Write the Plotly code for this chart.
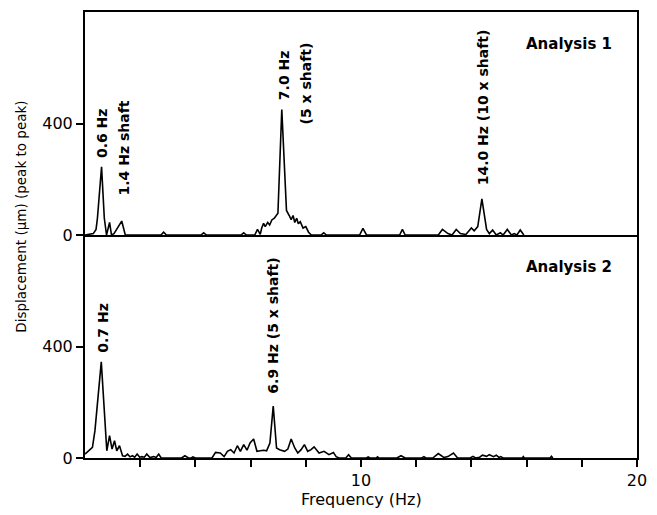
import plotly.graph_objects as go

# Analysis 1 spectrum (Hz, displacement µm peak-to-peak)
freq1 = [0.0, 0.3, 0.4, 0.45, 0.6, 0.7, 0.78, 0.89, 0.96, 1.05, 1.33, 1.46, 2.75, 2.85, 2.95,
         4.2, 4.3, 4.4, 5.65, 5.75, 5.85, 6.15, 6.25, 6.35, 6.4, 6.47, 6.53, 6.62, 6.69, 6.77,
         6.86, 6.93, 6.99, 7.13, 7.3, 7.4, 7.47, 7.54, 7.6, 7.67, 7.73, 7.8, 7.9, 8.0, 8.1,
         8.2, 8.55, 8.65, 8.75, 9.95, 10.07, 10.2, 11.4, 11.5, 11.6, 12.8, 12.95, 13.15, 13.3,
         13.45, 13.6, 13.8, 14.0, 14.1, 14.23, 14.38, 14.55, 14.65, 14.77, 14.9, 15.05, 15.15,
         15.3, 15.45, 15.55, 15.65, 15.77, 15.9]
disp1 = [0, 5, 20, 60, 245, 60, 0, 45, 0, 5, 50, 0, 0, 10, 0,
         0, 8, 0, 0, 8, 0, 0, 20, 2, 24, 42, 30, 45, 36, 54,
         60, 72, 78, 450, 88, 70, 55, 70, 45, 60, 40, 48, 25, 30, 10,
         0, 0, 8, 0, 0, 24, 0, 0, 20, 0, 0, 20, 5, 0,
         20, 5, 2, 25, 15, 30, 130, 20, 5, 18, 0, 8, 0,
         20, 0, 5, 0, 18, 0]

# Analysis 2 spectrum
freq2 = [0.0, 0.18, 0.27, 0.36, 0.59, 0.79, 0.89, 0.98, 1.07, 1.15, 1.25, 1.36, 1.45, 1.54,
         1.63, 1.72, 1.8, 1.89, 1.98, 2.06, 2.15, 2.24, 2.35, 2.49, 2.58, 2.67, 2.76, 3.5,
         3.62, 3.75, 3.85, 3.91, 4.0, 4.6, 4.73, 4.9, 5.04, 5.16, 5.28, 5.4, 5.52, 5.63, 5.75,
         5.87, 5.98, 6.11, 6.23, 6.35, 6.47, 6.58, 6.7, 6.82, 6.94, 7.05, 7.23, 7.35, 7.47,
         7.6, 7.71, 7.83, 7.95, 8.07, 8.19, 8.3, 8.48, 8.66, 8.84, 9.0, 9.1, 9.2, 9.45, 9.55,
         9.65, 10.2, 10.26, 10.32, 10.55, 10.6, 10.65, 11.3, 11.45, 11.6, 12.2, 12.28, 12.35,
         12.6, 12.8, 13.0, 13.15, 13.35, 13.5, 13.95, 14.06, 14.15, 14.3, 14.4, 14.55, 14.65,
         14.8, 14.9, 15.0, 15.06, 15.15, 15.85, 15.88, 15.92, 16.85, 16.9, 16.95]
disp2 = [14, 32, 38, 98, 345, 26, 80, 32, 62, 26, 44, 8, 6, 14,
         4, 8, 3, 14, 3, 5, 3, 14, 2, 5, 2, 14, 0, 0,
         8, 0, 0, 4, 0, 0, 20, 18, 5, 24, 30, 18, 44, 24, 48,
         28, 54, 68, 24, 26, 28, 26, 54, 186, 36, 30, 24, 32, 68,
         36, 18, 30, 48, 24, 30, 40, 18, 24, 12, 20, 5, 0, 0, 12,
         0, 0, 4, 0, 0, 4, 0, 0, 8, 0, 0, 5, 0,
         0, 16, 2, 5, 18, 0, 0, 6, 0, 3, 10, 6, 12,
         5, 10, 2, 5, 0, 0, 5, 0, 0, 6, 0]

x_tickvals = [2, 4, 6, 8, 10, 12, 14, 16, 18, 20]
x_ticktext = ["", "", "", "", "10", "", "", "", "", "20"]
y_tickvals = [0, 400]
y_ticktext = ["0", "400"]

FONT = "DejaVu Sans"

fig = go.Figure()
fig.add_trace(go.Scatter(x=freq1, y=disp1, mode="lines", xaxis="x2", yaxis="y2",
                         line=dict(color="black", width=1.6), showlegend=False))
fig.add_trace(go.Scatter(x=freq2, y=disp2, mode="lines", xaxis="x", yaxis="y",
                         line=dict(color="black", width=1.6), showlegend=False))

ax_common = dict(showgrid=False, zeroline=False, showline=True, linecolor="black", linewidth=2)

fig.update_layout(
    width=657, height=515,
    margin=dict(l=85, r=10, t=10, b=57),
    paper_bgcolor="white", plot_bgcolor="white",
    font=dict(family=FONT, color="black", size=15),
    xaxis=dict(domain=[0, 1], anchor="y", range=[0, 20], tickvals=x_tickvals, ticktext=x_ticktext,
               ticks="outside", ticklen=7, tickwidth=2, tickcolor="black",
               tickfont=dict(size=16), mirror=False, **ax_common),
    xaxis2=dict(domain=[0, 1], anchor="y2", range=[0, 20], showticklabels=False, ticks="",
                mirror=True, **ax_common),
    yaxis=dict(domain=[0, 0.5], anchor="x", range=[0, 800], tickvals=y_tickvals, ticktext=y_ticktext,
               ticks="outside", ticklen=7, tickwidth=2, tickcolor="black",
               tickfont=dict(size=16), mirror=True, **ax_common),
    yaxis2=dict(domain=[0.5, 1], anchor="x2", range=[0, 800], tickvals=y_tickvals, ticktext=y_ticktext,
                ticks="outside", ticklen=7, tickwidth=2, tickcolor="black",
                tickfont=dict(size=16), mirror=True, **ax_common),
)

ann_font = dict(family=FONT, size=14, color="black")
rot = [
    ("x2", "y2", 0.6, 364, "<b>0.6 Hz</b>"),
    ("x2", "y2", 1.42, 311, "<b>1.4 Hz shaft</b>"),
    ("x2", "y2", 7.19, 575, "<b>7.0 Hz</b>"),
    ("x2", "y2", 8.0, 543, "<b>(5 x shaft)</b>"),
    ("x2", "y2", 14.41, 457, "<b>14.0 Hz (10 x shaft)</b>"),
    ("x", "y", 0.64, 466, "<b>0.7 Hz</b>"),
    ("x", "y", 6.83, 473, "<b>6.9 Hz (5 x shaft)</b>"),
]
for xr, yr, xv, yv, t in rot:
    fig.add_annotation(xref=xr, yref=yr, x=xv, y=yv, text=t, textangle=-90, showarrow=False,
                       xanchor="center", yanchor="middle", font=ann_font)

lab_font = dict(family=FONT, size=15, color="black")
fig.add_annotation(xref="x2", yref="y2", x=15.9, y=685, text="<b>Analysis 1</b>", showarrow=False,
                   xanchor="left", yanchor="middle", font=lab_font)
fig.add_annotation(xref="x", yref="y", x=15.9, y=685, text="<b>Analysis 2</b>", showarrow=False,
                   xanchor="left", yanchor="middle", font=lab_font)

fig.add_annotation(xref="paper", yref="paper", x=-0.115, y=0.54,
                   text="Displacement (µm) (peak to peak)", textangle=-90, showarrow=False,
                   xanchor="center", yanchor="middle", font=dict(family=FONT, size=13.5, color="black"))
fig.add_annotation(xref="x", yref="paper", x=10, y=-0.094, text="Frequency (Hz)", showarrow=False,
                   xanchor="center", yanchor="middle", font=dict(family=FONT, size=16, color="black"))

fig.write_html("out.html")
